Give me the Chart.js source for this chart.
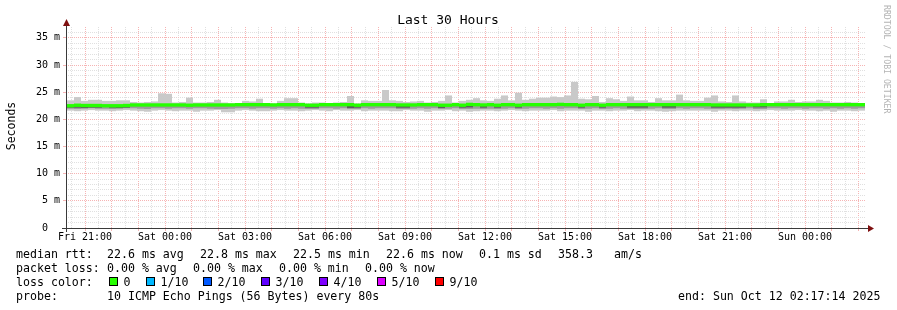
<!DOCTYPE html>
<html><head><meta charset="utf-8">
<script src="https://cdn.jsdelivr.net/npm/chart.js@4.4.0/dist/chart.umd.min.js"></script>
<style>html,body{margin:0;padding:0;background:#fff;}canvas{display:block}</style>
</head><body>
<canvas id="c" width="897" height="310"></canvas>
<script>
// ---------- data ----------
const chartTitle = 'Last 30 Hours';
const yAxisTitle = 'Seconds';
const watermark = 'RRDTOOL / TOBI OETIKER';
const spanHours = 30;                 // graph covers Fri 20:17:14 .. Sun 02:17:14
const firstHourOffset = 0.7128;       // hours from graph start to Fri 21:00
const labelEveryHours = 3;
const xTickLabels = ['Fri 21:00','Sat 00:00','Sat 03:00','Sat 06:00','Sat 09:00','Sat 12:00','Sat 15:00','Sat 18:00','Sat 21:00','Sun 00:00'];
const yMaxMs = 37;
const bucketStartH = 0.0375;          // first smoke bucket start (hours)
const bucketH = 0.2625;               // smoke bucket length (hours)

// per-bucket ping distribution (ms)
const rttMax = [
 23.5,24.1,23.4,23.6,23.6,23.4,23.4,23.5,23.5,23.2,
 23.1,23.2,23.3,24.8,24.7,23.1,23.2,24.0,23.1,23.1,
 23.2,23.6,23.1,22.95,22.95,23.4,23.3,23.8,23.0,22.9,
 23.4,23.9,23.9,23.1,22.9,23.1,23.1,23.0,23.1,23.2,
 24.3,22.9,23.5,23.4,23.4,25.4,23.5,23.4,23.2,23.3,
 23.4,23.1,23.2,23.4,24.4,23.1,23.4,23.6,23.9,23.5,
 23.4,23.8,24.4,23.5,24.9,23.6,23.8,24.0,24.0,24.2,
 24.1,24.4,26.9,23.8,23.7,24.3,23.2,23.9,23.7,23.4,
 24.2,23.5,23.5,23.2,23.9,23.5,23.5,24.55,23.5,23.4,
 23.4,24.0,24.4,23.3,23.2,24.4,23.3,23.1,23.1,23.7,
 23.0,23.3,23.3,23.6,23.2,23.3,23.3,23.6,23.4,23.1,
 23.1,23.2,23.1,23.0];
const rttMin = [
 21.6,21.5,21.6,21.7,21.6,21.6,21.5,21.6,21.7,21.6,
 21.5,21.4,21.6,21.7,21.6,21.5,21.6,21.6,21.4,21.6,
 21.6,21.7,21.3,21.3,21.6,21.7,21.6,21.5,21.5,21.6,
 21.7,21.6,21.6,21.5,21.6,21.7,21.6,21.5,21.7,21.6,
 21.6,21.7,21.5,21.6,21.6,21.6,21.5,21.5,21.7,21.6,
 21.6,21.4,21.6,21.6,21.7,21.5,21.6,21.4,21.5,21.6,
 21.6,21.5,21.6,21.7,21.6,21.5,21.6,21.6,21.6,21.7,
 21.5,21.6,21.6,21.6,21.4,21.6,21.6,21.5,21.6,21.6,
 21.7,21.5,21.6,21.6,21.5,21.4,21.5,21.6,21.6,21.6,
 21.6,21.6,21.4,21.6,21.6,21.5,21.6,21.6,21.5,21.6,
 21.7,21.6,21.6,21.6,21.7,21.6,21.6,21.5,21.6,21.4,
 21.6,21.6,21.5,21.6];
const rttLowQ = [
 21.95,21.9,21.95,22.05,21.95,21.95,21.9,21.95,22.05,22.05,
 21.95,21.9,22.05,22.05,21.95,22.05,22.05,21.95,22.05,22.05,
 21.95,21.9,21.9,21.95,22.05,22.05,21.95,22.05,22.05,21.95,
 22.05,21.95,22.05,21.95,21.9,21.9,22.05,22.05,21.95,22.05,
 21.9,21.9,22.05,21.95,22.05,22.05,22.05,21.9,21.9,21.95,
 22.05,21.95,22.05,21.9,21.95,22.05,21.9,21.9,21.95,21.9,
 21.95,21.9,21.95,22.05,21.9,21.95,22.05,22.05,21.95,22.05,
 21.95,22.05,22.05,21.9,21.95,22.05,21.9,21.95,22.05,21.95,
 21.9,21.9,21.9,21.95,22.05,21.9,21.9,22.05,21.95,22.05,
 22.05,21.95,21.9,21.9,21.95,21.9,21.95,22.05,21.9,21.9,
 22.05,22.05,21.95,22.05,22.05,21.95,22.05,22.05,21.95,22.05,
 21.95,22.05,21.95,22.05];
const rttInner = [
 22.15,22.15,22.1,22.15,22.15,null,22.15,22.1,22.15,null,
 null,null,null,null,null,null,null,null,null,null,
 null,null,null,null,null,null,null,null,null,null,
 null,null,null,null,22.15,22.15,null,null,null,null,
 22.1,22.15,null,null,null,null,null,22.15,22.15,null,
 null,null,null,22.1,null,null,22.15,22.2,null,22.15,
 null,22.15,null,null,22.15,null,null,null,null,null,
 null,null,null,22.15,null,null,22.15,null,null,null,
 22.15,22.15,22.15,null,null,22.15,22.15,null,null,null,
 null,null,22.15,22.15,22.15,22.15,22.15,null,22.2,22.2,
 null,null,null,null,null,null,null,null,null,null,
 null,null,null,null];
const rttMedian = [
 22.5,22.6,22.55,22.55,22.55,22.5,22.5,22.5,22.55,22.65,
 22.65,22.65,22.65,22.65,22.65,22.65,22.65,22.6,22.65,22.65,
 22.65,22.65,22.65,22.65,22.7,22.7,22.7,22.7,22.7,22.65,
 22.7,22.7,22.7,22.7,22.6,22.6,22.7,22.7,22.7,22.7,
 22.7,22.6,22.7,22.7,22.7,22.7,22.7,22.65,22.65,22.65,
 22.7,22.7,22.7,22.6,22.6,22.7,22.6,22.75,22.7,22.65,
 22.7,22.6,22.7,22.7,22.6,22.7,22.7,22.7,22.7,22.7,
 22.75,22.7,22.7,22.6,22.7,22.7,22.6,22.7,22.7,22.7,
 22.7,22.7,22.7,22.7,22.7,22.7,22.7,22.7,22.7,22.7,
 22.7,22.7,22.65,22.65,22.65,22.65,22.65,22.65,22.65,22.7,
 22.7,22.7,22.7,22.7,22.7,22.7,22.7,22.7,22.7,22.7,
 22.7,22.7,22.7,22.7];

// legend texts
const rttLabel = 'median rtt:';
const rttStats = ['22.6 ms avg','22.8 ms max','22.5 ms min','22.6 ms now','0.1 ms sd','358.3','am/s'];
const lossLabel = 'packet loss:';
const lossStats = ['0.00 % avg','0.00 % max','0.00 % min','0.00 % now'];
const lossColorLabel = 'loss color:';
const lossNames = ['0','1/10','2/10','3/10','4/10','5/10','9/10'];
const lossColors = ['#26ff00','#00b8ff','#0059ff','#5e00ff','#7e00ff','#dd00ff','#ff0000'];
const probeLabel = 'probe:';
const probeText = '10 ICMP Echo Pings (56 Bytes) every 80s';
const endText = 'end: Sun Oct 12 02:17:14 2025';

// ---------- styling ----------
const RED = '#f6b4b4', GREY = '#e0e0e0';
const MONO = "'DejaVu Sans Mono', monospace";
const medianHalf = 0.31;

const centers = rttMax.map((_, k) => bucketStartH + bucketH * (k + 0.5));
function band(lo, hi) {
  const out = [];
  centers.forEach((x, k) => { if (lo[k] != null && hi[k] != null) out.push({x, y: [lo[k], hi[k]]}); });
  return out;
}
const smokeData = band(rttMin, rttMax);
const midData = band(rttLowQ, rttMedian);
const innerData = band(rttInner, rttMedian);
const medianData = centers.map((x, k) => ({x, y: [rttMedian[k] - medianHalf, rttMedian[k] + medianHalf]}));

const xTicks = [];
for (let t = firstHourOffset - 0.5; t <= spanHours + 1e-9; t += 0.5) xTicks.push(+t.toFixed(4));
function isHour(v) { const f = (((v - firstHourOffset) % 1) + 1) % 1; return f < 1e-3 || f > 1 - 1e-3; }
function xLabel(v) {
  const h = v - firstHourOffset, i = Math.round(h / labelEveryHours);
  return (Math.abs(h - i * labelEveryHours) < 1e-3 && i >= 0 && i < xTickLabels.length) ? xTickLabels[i] : '';
}
const yTicks = [];
for (let v = 0; v < yMaxMs; v++) yTicks.push(v);
function yLabel(v) { return v === 0 ? '0  ' : (v % 5 === 0 ? v + ' m' : ''); }

const decor = {
  id: 'decor',
  beforeDraw(chart) { const c = chart.ctx; c.save(); c.fillStyle = '#fff'; c.fillRect(0, 0, chart.width, chart.height); c.restore(); },
  afterDraw(chart) {
    const c = chart.ctx, a = chart.chartArea;
    c.save();
    // axes
    c.fillStyle = '#3a3a3a';
    c.fillRect(a.left, a.top - 3, 1, a.bottom - a.top + 7);
    c.fillRect(a.left - 4, a.bottom, a.right - a.left + 9, 1);
    c.fillStyle = '#7f1010';
    c.beginPath(); c.moveTo(a.left + 0.5, a.top - 8); c.lineTo(a.left - 3, a.top - 1); c.lineTo(a.left + 4, a.top - 1); c.closePath(); c.fill();
    c.beginPath(); c.moveTo(a.right + 8, a.bottom + 0.5); c.lineTo(a.right + 2, a.bottom - 3); c.lineTo(a.right + 2, a.bottom + 4); c.closePath(); c.fill();
    // title
    c.fillStyle = '#000';
    c.font = '13px ' + MONO; c.textAlign = 'center'; c.textBaseline = 'alphabetic';
    c.fillText(chartTitle, 448, 24);
    // y title
    c.save(); c.translate(15, 126); c.rotate(-Math.PI / 2);
    c.font = '11.5px ' + MONO; c.textAlign = 'center'; c.fillText(yAxisTitle, 0, 0); c.restore();
    // watermark
    c.save(); c.translate(884, 5); c.rotate(Math.PI / 2);
    c.font = '8.2px ' + MONO; c.fillStyle = '#b4b4b4'; c.textAlign = 'left'; c.textBaseline = 'alphabetic';
    c.fillText(watermark, 0, 0); c.restore();
    // legend
    c.font = '11.6px ' + MONO; c.textAlign = 'left'; c.textBaseline = 'alphabetic'; c.fillStyle = '#000';
    c.fillText(rttLabel, 16, 258);
    [107, 200, 293, 386, 479, 558, 614].forEach((x, i) => c.fillText(rttStats[i], x, 258));
    c.fillText(lossLabel, 16, 272);
    [107, 193, 279, 365].forEach((x, i) => c.fillText(lossStats[i], x, 272));
    c.fillText(lossColorLabel, 16, 286);
    [109, 146, 203, 261, 319, 377, 435].forEach((x, i) => {
      c.fillStyle = lossColors[i]; c.fillRect(x, 277, 8, 9);
      c.strokeStyle = '#000'; c.lineWidth = 1; c.strokeRect(x + 0.5, 277.5, 8, 8);
      c.fillStyle = '#000'; c.fillText(lossNames[i], x + 14.5, 286);
    });
    c.fillText(probeLabel, 16, 300);
    c.fillText(probeText, 107, 300);
    c.fillText(endText, 678, 300);
    c.restore();
  }
};

new Chart(document.getElementById('c'), {
  type: 'bar',
  data: { datasets: [
    { label: 'median', data: medianData, backgroundColor: lossColors[0], order: 0 },
    { label: 'inner', data: innerData, backgroundColor: '#5a5a5a', order: 1 },
    { label: 'quartile', data: midData, backgroundColor: '#9c9c9c', order: 2 },
    { label: 'smoke', data: smokeData, backgroundColor: '#c9c9c9', order: 3 }
  ]},
  options: {
    responsive: false, animation: false, devicePixelRatio: 1,
    datasets: { bar: { grouped: false, barPercentage: 1, categoryPercentage: 1, borderWidth: 0, inflateAmount: 0 } },
    layout: { padding: { left: 0, right: 31, top: 27, bottom: 0 } },
    plugins: { legend: { display: false }, tooltip: { enabled: false }, title: { display: false } },
    scales: {
      x: {
        type: 'linear', min: 0, max: spanHours, offset: false, position: 'bottom',
        afterFit(s) { s.height = 82; },
        afterBuildTicks(s) { s.ticks = xTicks.map(v => ({ value: v })); },
        grid: {
          offset: false, lineWidth: 1, drawTicks: true, tickLength: 3,
          color: c => (c.tick && isHour(c.tick.value)) ? RED : GREY,
          tickColor: c => (c.tick && isHour(c.tick.value)) ? RED : 'rgba(0,0,0,0)'
        },
        border: { display: false, dash: [1, 1] },
        ticks: { autoSkip: false, maxRotation: 0, minRotation: 0, padding: 0, color: '#000',
          font: { family: MONO, size: 10 }, callback: v => xLabel(v) }
      },
      y: {
        type: 'linear', min: 0, max: yMaxMs,
        afterFit(s) { s.width = 66; },
        afterBuildTicks(s) { s.ticks = yTicks.map(v => ({ value: v })); },
        grid: {
          lineWidth: 1, drawTicks: true, tickLength: 3,
          color: c => (c.tick && c.tick.value % 5 === 0) ? RED : GREY,
          tickColor: c => (c.tick && c.tick.value % 5 === 0) ? RED : 'rgba(0,0,0,0)'
        },
        border: { display: false, dash: [1, 1] },
        ticks: { autoSkip: false, padding: 3, color: '#000', font: { family: MONO, size: 10 }, callback: v => yLabel(v) }
      }
    }
  },
  plugins: [decor]
});
</script>
</body></html>
